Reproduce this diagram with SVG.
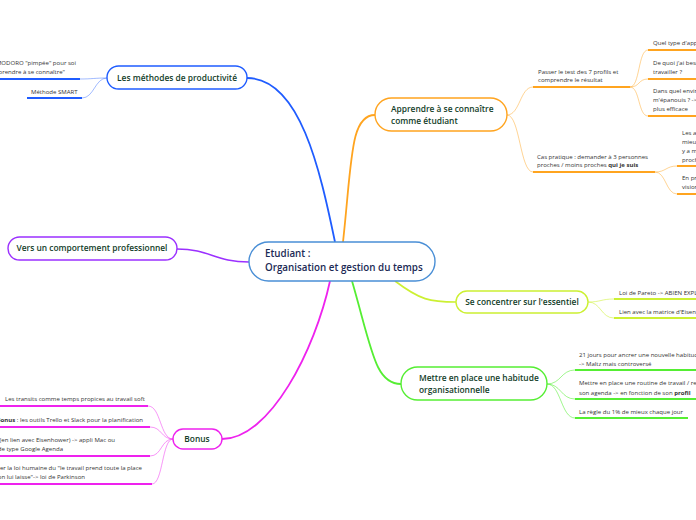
<svg xmlns="http://www.w3.org/2000/svg" width="696" height="520" viewBox="0 0 696 520">
<style>
.leaf{font-family:"Open Sans","Noto Sans",sans-serif;font-size:6.05px;fill:#333}
.nt{font-family:"Open Sans","Noto Sans",sans-serif;font-size:8.4px;fill:#123d28;font-weight:600}
.ct{font-family:"Open Sans","Noto Sans",sans-serif;font-size:9.8px;fill:#1b2a55;font-weight:600}
.node{fill:#fff;stroke-width:1.4}
.c{fill:none}
.u{fill:none;stroke-width:2}
.b{font-weight:700}
</style>
<rect width="696" height="520" fill="#fff"/>
<g id="connectors">
  <path class="c" d="M247 78 C300 78 320 170 335 242" stroke="#1f5cff" stroke-width="1.8"/>
  <path class="c" d="M343 242 C352 160 350 115 375 115" stroke="#ffa41f" stroke-width="1.8"/>
  <path class="c" d="M249 262 C215 262 210 249 177 249" stroke="#9b30ff" stroke-width="1.6"/>
  <path class="c" d="M395 281 C420 300 430 302 456 302" stroke="#ccf032" stroke-width="1.6"/>
  <path class="c" d="M352 281 C372 350 375 384 401 384" stroke="#55ee33" stroke-width="1.8"/>
  <path class="c" d="M330 281 C315 350 270 439 222 439" stroke="#ee22ee" stroke-width="1.8"/>
  <g stroke="#1f5cff">
    <path class="c" d="M107 78 C95 78 92 79 80 79" stroke-width="0.7" stroke-opacity="0.6"/>
    <path class="c" d="M107 78 C95 78 94 98 82 98" stroke-width="0.7" stroke-opacity="0.6"/>
    <path class="u" d="M0 79 H80"/>
    <path class="u" d="M27 98 H82"/>
  </g>
  <g stroke="#ffa41f">
    <path class="c" d="M507 115 C520 115 520 87 533 87" stroke-width="0.8" stroke-opacity="0.6"/>
    <path class="c" d="M507 115 C520 115 520 172 533 172" stroke-width="0.8" stroke-opacity="0.6"/>
    <path class="u" d="M533 87 H630"/>
    <path class="u" d="M533 172 H655"/>
    <path class="c" d="M630 87 C640 87 638 50 648 50" stroke-width="0.8" stroke-opacity="0.6"/>
    <path class="c" d="M630 87 C640 87 638 79 648 79" stroke-width="0.8" stroke-opacity="0.6"/>
    <path class="c" d="M630 87 C640 87 638 116 648 116" stroke-width="0.8" stroke-opacity="0.6"/>
    <path class="u" d="M648 50 H696"/>
    <path class="u" d="M648 79 H696"/>
    <path class="u" d="M648 116 H696"/>
    <path class="c" d="M655 172 C666 172 666 166 677 166" stroke-width="0.8" stroke-opacity="0.6"/>
    <path class="c" d="M655 172 C666 172 666 194 677 194" stroke-width="0.8" stroke-opacity="0.6"/>
    <path class="u" d="M677 166 H696"/>
    <path class="u" d="M677 194 H696"/>
  </g>
  <g stroke="#ccf032">
    <path class="c" d="M588 302 C601 302 601 299 614 299" stroke-width="0.8" stroke-opacity="0.7"/>
    <path class="c" d="M588 302 C601 302 601 318 614 318" stroke-width="0.8" stroke-opacity="0.7"/>
    <path class="u" d="M614 299 H696"/>
    <path class="u" d="M614 318 H696"/>
  </g>
  <g stroke="#55ee33">
    <path class="c" d="M547 384 C561 384 561 370 575 370" stroke-width="0.8" stroke-opacity="0.7"/>
    <path class="c" d="M547 384 C561 384 561 399 575 399" stroke-width="0.8" stroke-opacity="0.7"/>
    <path class="c" d="M547 384 C561 384 561 418 575 418" stroke-width="0.8" stroke-opacity="0.7"/>
    <path class="u" d="M575 370 H696"/>
    <path class="u" d="M575 399 H696"/>
    <path class="u" d="M575 418 H688"/>
  </g>
  <g stroke="#ee22ee">
    <path class="c" d="M173 439 C160 439 161 406 148 406" stroke-width="0.8" stroke-opacity="0.6"/>
    <path class="c" d="M173 439 C161 439 162 427 150 427" stroke-width="0.8" stroke-opacity="0.6"/>
    <path class="c" d="M173 439 C161 439 162 456 150 456" stroke-width="0.8" stroke-opacity="0.6"/>
    <path class="c" d="M173 439 C162 439 163 484 152 484" stroke-width="0.8" stroke-opacity="0.6"/>
    <path class="u" d="M0 406 H148"/>
    <path class="u" d="M0 427 H150"/>
    <path class="u" d="M0 456 H150"/>
    <path class="u" d="M0 484 H152"/>
  </g>
</g>
<g id="center">
  <rect class="node" x="249" y="242" width="186" height="39" rx="19.5" stroke="#4a8fd6"/>
  <text class="ct" x="265" y="257">Etudiant :</text>
  <text class="ct" x="265" y="271">Organisation et gestion du temps</text>
</g>
<g id="methodes">
  <rect class="node" x="107" y="66" width="140" height="23" rx="11.5" stroke="#1f5cff"/>
  <text class="nt" x="177" y="80.5" text-anchor="middle">Les méthodes de productivité</text>
</g>
<g id="apprendre">
  <rect class="node" x="375" y="98" width="132" height="33" rx="16.5" stroke="#ffa41f"/>
  <text class="nt" x="391" y="112">Apprendre à se connaître</text>
  <text class="nt" x="391" y="124">comme étudiant</text>
</g>
<g id="concentrer">
  <rect class="node" x="456" y="291" width="132" height="22" rx="11" stroke="#ccf032"/>
  <text class="nt" x="522" y="305" text-anchor="middle">Se concentrer sur l'essentiel</text>
</g>
<g id="habitude">
  <rect class="node" x="401" y="367" width="146" height="33" rx="16.5" stroke="#55ee33"/>
  <text class="nt" x="419" y="381">Mettre en place une habitude</text>
  <text class="nt" x="419" y="393">organisationnelle</text>
</g>
<g id="professionnel">
  <rect class="node" x="8" y="237" width="169" height="23" rx="11.5" stroke="#9b30ff"/>
  <text class="nt" x="92" y="251" text-anchor="middle">Vers un comportement professionnel</text>
</g>
<g id="bonus">
  <rect class="node" x="173" y="429" width="49" height="20" rx="10" stroke="#ee22ee"/>
  <text class="nt" x="197" y="442" text-anchor="middle">Bonus</text>
</g>
<g id="leaf-pomodoro">
  <text class="leaf" x="76" y="65" text-anchor="end">POMODORO "pimpée" pour soi</text>
  <text class="leaf" x="65" y="74" text-anchor="end">apprendre à se connaître"</text>
</g>
<g id="leaf-smart"><text class="leaf" x="31" y="94">Méthode SMART</text></g>
<g id="leaf-passer">
  <text class="leaf" x="538" y="74">Passer le test  des 7 profils et</text>
  <text class="leaf" x="538" y="82">comprendre le résultat</text>
</g>
<g id="leaf-type"><text class="leaf" x="653" y="45">Quel type d'apprentissage</text></g>
<g id="leaf-quoi">
  <text class="leaf" x="653" y="65">De quoi j'ai besoin pour</text>
  <text class="leaf" x="653" y="74">travailler ?</text>
</g>
<g id="leaf-env">
  <text class="leaf" x="653" y="93">Dans quel environnement</text>
  <text class="leaf" x="653" y="102">m'épanouis ? -&gt; où je suis</text>
  <text class="leaf" x="653" y="111">plus efficace</text>
</g>
<g id="leaf-cas">
  <text class="leaf" x="537" y="159">Cas pratique : demander à 3 personnes</text>
  <text class="leaf" x="537" y="167">proches / moins proches <tspan class="b">qui je suis</tspan></text>
</g>
<g id="leaf-les">
  <text class="leaf" x="682" y="135">Les avis</text>
  <text class="leaf" x="682" y="144">mieux</text>
  <text class="leaf" x="682" y="153">y a m</text>
  <text class="leaf" x="682" y="162">proches</text>
</g>
<g id="leaf-en">
  <text class="leaf" x="682" y="180">En prendre</text>
  <text class="leaf" x="682" y="189">vision</text>
</g>
<g id="leaf-pareto"><text class="leaf" x="619" y="295">Loi de Pareto -&gt; ABIEN EXPLIQUER</text></g>
<g id="leaf-lien"><text class="leaf" x="619" y="314">Lien avec la matrice d'Eisenhower</text></g>
<g id="leaf-21">
  <text class="leaf" x="579" y="357">21 jours pour ancrer une nouvelle habitude</text>
  <text class="leaf" x="579" y="366">-&gt; Maltz mais controversé</text>
</g>
<g id="leaf-routine">
  <text class="leaf" x="579" y="385">Mettre en place une routine de travail / regarder</text>
  <text class="leaf" x="579" y="395">son agenda -&gt; en fonction de son <tspan class="b">profil</tspan></text>
</g>
<g id="leaf-regle"><text class="leaf" x="579" y="414">La règle du 1% de mieux chaque jour</text></g>
<g id="leaf-transits"><text class="leaf" x="5" y="401">Les transits comme temps propices au travail soft</text></g>
<g id="leaf-outils"><text class="leaf" x="143" y="422" text-anchor="end"><tspan class="b">Bonus</tspan> : les outils Trello et Slack pour la planification</text></g>
<g id="leaf-appli">
  <text class="leaf" x="115" y="442" text-anchor="end">Organiser (en lien avec Eisenhower) -&gt; appli Mac ou</text>
  <text class="leaf" x="63" y="451" text-anchor="end">de type Google Agenda</text>
</g>
<g id="leaf-parkinson">
  <text class="leaf" x="142" y="470" text-anchor="end">Envoyer la loi humaine du "le travail prend toute la place</text>
  <text class="leaf" x="85" y="479" text-anchor="end">qu'on lui laisse"-&gt; loi de Parkinson</text>
</g>
</svg>
